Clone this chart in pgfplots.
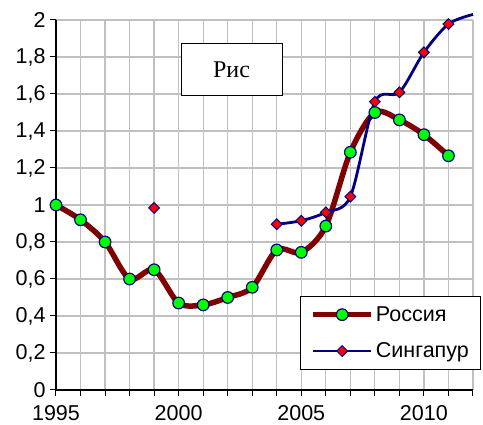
\documentclass[border=0pt]{standalone}
\usepackage{pgfplots}
\pgfplotsset{compat=1.18}
\usepackage{fontspec}
\setmainfont{Liberation Sans}
\newfontfamily\timesfont{Liberation Serif}
\definecolor{rusred}{HTML}{800000}
\definecolor{navy}{HTML}{000080}
\definecolor{gridgray}{HTML}{C0C0C0}
\pgfplotsset{
  sglegend/.style={
    legend image code/.code={
      \draw[navy, line width=2.8pt] (0pt,0pt) -- (58pt,0pt);
      \draw[mark=square*, mark size=3.8pt, mark options={rotate=45, fill=red, draw=navy, line width=1pt}] plot coordinates {(29pt,0pt)};
    }
  }
}
\begin{document}
\begin{tikzpicture}
\path[use as bounding box] (-56pt,-35pt) rectangle (427pt,390pt);
\begin{axis}[
  at={(0pt,0pt)}, anchor=south west,
  scale only axis, width=417pt, height=370pt,
  xmin=1995, xmax=2012, ymin=0, ymax=2,
  clip=false,
  axis x line*=bottom, axis y line*=left,
  axis line style={black, line width=1.2pt, -},
  xtick={1995,...,2012},
  xticklabels={1995,,,,,2000,,,,,2005,,,,,2010,,},
  ytick={0,0.2,0.4,0.6,0.8,1,1.2,1.4,1.6,1.8,2},
  /pgf/number format/use comma,
  /pgf/number format/assume math mode=true,
  tick label style={font=\fontsize{21.5}{24}\selectfont},
  xticklabel style={yshift=-6pt},
  yticklabel style={xshift=-1pt},
  tick align=outside,
  major tick length=6pt,
  tick style={black, line width=1pt},
  grid=major,
  major grid style={gridgray, line width=1.3pt},
  legend style={at={(0.585,0.254)}, anchor=north west, draw=black, line width=1pt, fill=white,
    font=\fontsize{21.5}{24}\selectfont, row sep=16pt, inner xsep=10pt, inner ysep=8pt,
    cells={anchor=west}},
  legend image code/.code={
    \draw[#1, mark repeat=2, mark phase=2] plot coordinates {(0pt,0pt) (29pt,0pt) (58pt,0pt)};
  },
]
\addplot[rusred, line width=5.5pt, smooth, mark=*, mark size=5.8pt,
  mark options={fill=green, draw=navy, line width=1.2pt}] coordinates {
(1995,1.0) (1996,0.92) (1997,0.80) (1998,0.60) (1999,0.65) (2000,0.47)
(2001,0.46) (2002,0.50) (2003,0.555) (2004,0.757) (2005,0.744) (2006,0.886)
(2007,1.285) (2008,1.50) (2009,1.46) (2010,1.38) (2011,1.266)
};
\addlegendentry{Россия}
\addplot[navy, line width=2.8pt, smooth, forget plot] coordinates {
(2004,0.896) (2005,0.915) (2006,0.96) (2007,1.045) (2008,1.558) (2009,1.609)
(2010,1.825) (2011,1.978) (2012,2.03)
};
\addplot[only marks, mark=square*, mark size=3.8pt,
  mark options={rotate=45, fill=red, draw=navy, line width=1pt}, sglegend] coordinates {
(1999,0.984) (2004,0.896) (2005,0.915) (2006,0.96) (2007,1.045) (2008,1.558)
(2009,1.609) (2010,1.825) (2011,1.978)
};
\addlegendentry{Сингапур}
\node[draw=black, line width=1pt, fill=white, minimum width=101pt, minimum height=52pt,
  font=\timesfont\fontsize{24}{28}\selectfont] at (rel axis cs:0.421,0.865) {Рис};
\end{axis}
\end{tikzpicture}
\end{document}
